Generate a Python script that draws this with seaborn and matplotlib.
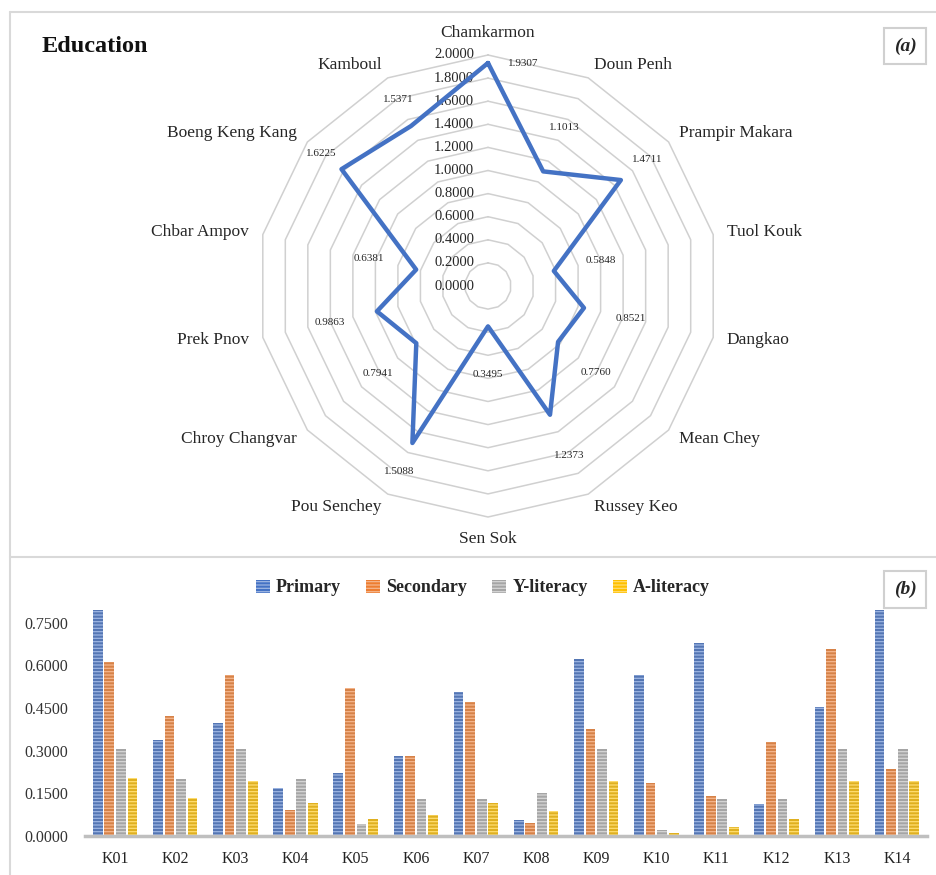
import numpy as np
import pandas as pd
import matplotlib.pyplot as plt
import seaborn as sns
from matplotlib.lines import Line2D
from matplotlib.patches import Patch

# --- radar data (a) ---
districts = ['Chamkarmon', 'Doun Penh', 'Prampir Makara', 'Tuol Kouk', 'Dangkao',
             'Mean Chey', 'Russey Keo', 'Sen Sok', 'Pou Senchey', 'Chroy Changvar',
             'Prek Pnov', 'Chbar Ampov', 'Boeng Keng Kang', 'Kamboul']
education = [1.9307, 1.1013, 1.4711, 0.5848, 0.8521, 0.7760, 1.2373,
             0.3495, 1.5088, 0.7941, 0.9863, 0.6381, 1.6225, 1.5371]
ring_levels = [0.0, 0.2, 0.4, 0.6, 0.8, 1.0, 1.2, 1.4, 1.6, 1.8, 2.0]

# --- bar data (b) ---
codes = ['K01', 'K02', 'K03', 'K04', 'K05', 'K06', 'K07',
         'K08', 'K09', 'K10', 'K11', 'K12', 'K13', 'K14']
primary = [0.794, 0.338, 0.397, 0.169, 0.223, 0.282, 0.507,
           0.055, 0.621, 0.567, 0.680, 0.114, 0.452, 0.794]
secondary = [0.611, 0.422, 0.567, 0.093, 0.520, 0.282, 0.472,
             0.047, 0.375, 0.185, 0.139, 0.329, 0.659, 0.235]
y_literacy = [0.306, 0.199, 0.306, 0.199, 0.042, 0.131, 0.131,
              0.151, 0.306, 0.021, 0.131, 0.131, 0.306, 0.306]
a_literacy = [0.205, 0.135, 0.193, 0.116, 0.059, 0.073, 0.116,
              0.088, 0.193, 0.012, 0.031, 0.059, 0.193, 0.193]
series_names = ['Primary', 'Secondary', 'Y-literacy', 'A-literacy']
bar_ticks = [0.0, 0.15, 0.30, 0.45, 0.60, 0.75]

colors = ['#4472C4', '#ED7D31', '#A5A5A5', '#FFC000']
stripes = ['#9DB5E2', '#F5B68C', '#D6D6D6', '#FFDD70']

sns.set_theme(style='white')
plt.rcParams['font.family'] = ['Liberation Serif', 'DejaVu Serif']
plt.rcParams['hatch.linewidth'] = 0.9

W, H = 937, 875
fig = plt.figure(figsize=(W / 100, H / 100), dpi=100)

# ---------------- panel (a): radar ----------------
cx, cy, scale = 488, 286, 115.5
ax1 = fig.add_axes([10 / W, 1 - 557 / H, (W - 10) / W, (557 - 12) / H])
ax1.set_xlim((10 - cx) / scale, (W - cx) / scale)
ax1.set_ylim(-(557 - cy) / scale, (cy - 12) / scale)
ax1.axis('off')

n = len(districts)
theta = 2 * np.pi * np.arange(n) / n
sx, sy = np.sin(theta), np.cos(theta)

for lev in ring_levels[1:]:
    ax1.plot(np.append(lev * sx, lev * sx[0]), np.append(lev * sy, lev * sy[0]),
             color='#D0D0D0', lw=1.1, zorder=1)

for lev in ring_levels:
    ax1.text(-0.12, lev, f'{lev:.4f}', ha='right', va='center',
             fontsize=10.5, color='#262626', zorder=2)

vals = np.array(education)
radar = pd.DataFrame({'x': np.append(vals * sx, vals[0] * sx[0]),
                      'y': np.append(vals * sy, vals[0] * sy[0])})
sns.lineplot(data=radar, x='x', y='y', sort=False, estimator=None,
             color='#4472C4', lw=3.2, ax=ax1, zorder=3)
ax1.set_xlabel('')
ax1.set_ylabel('')

for i, name in enumerate(districts):
    s, c = sx[i], sy[i]
    ha = 'left' if s > 0.05 else ('right' if s < -0.05 else 'center')
    va = 'center'
    if c > 0.99:
        va = 'bottom'
    elif c < -0.99:
        va = 'top'
    ax1.text(2.12 * s, 2.12 * c, name, ha=ha, va=va, fontsize=12.5, color='#262626')

    v = education[i]
    if c > 0.99:
        ax1.text(v * s + 0.17, v * c, f'{v:.4f}', ha='left', va='center',
                 fontsize=8, color='#262626')
    else:
        rl = min(v + 0.42, 0.55 * v + 0.95)
        ax1.text(rl * s, rl * c, f'{v:.4f}', ha='center', va='center',
                 fontsize=8, color='#262626')

fig.text(42 / W, 1 - 47 / H, 'Education', ha='left', va='center',
         fontsize=17.5, fontweight='bold', color='#111111')

box = dict(boxstyle='square,pad=0.5', fc='white', ec='#D0D0D0', lw=1.5)
fig.text(905 / W, 1 - 46 / H, '(a)', ha='center', va='center', fontsize=14,
         style='italic', fontweight='bold', bbox=box)

# ---------------- panel (b): grouped bars ----------------
df = pd.DataFrame({'code': codes * 4,
                   'value': primary + secondary + y_literacy + a_literacy,
                   'series': np.repeat(series_names, len(codes))})

ax2 = fig.add_axes([85 / W, 1 - 836 / H, 842 / W, 227.5 / H])
sns.barplot(data=df, x='code', y='value', hue='series', hue_order=series_names,
            palette=colors, width=0.77, gap=0.17, legend=False, ax=ax2, zorder=2)

for cont, sc in zip(ax2.containers, stripes):
    for bar in cont:
        bar.set_hatch('-----')
        bar.set_edgecolor(sc)
        bar.set_linewidth(0)

ax2.set_ylim(0, 0.8)
ax2.set_xlim(-0.5, len(codes) - 0.5)
ax2.set_yticks(bar_ticks)
ax2.set_yticklabels([f'{t:.4f}' for t in bar_ticks])
ax2.set_xlabel('')
ax2.set_ylabel('')
ax2.tick_params(axis='y', length=0, pad=12, labelsize=11.5, labelcolor='#333333')
ax2.tick_params(axis='x', length=0, pad=11, labelsize=11.5, labelcolor='#222222')
for side in ['top', 'right', 'left']:
    ax2.spines[side].set_visible(False)
ax2.spines['bottom'].set_color('#BFBFBF')
ax2.spines['bottom'].set_linewidth(2.5)
ax2.set_facecolor('none')

handles = [Patch(facecolor=c, edgecolor=sc, hatch='-----', lw=0)
           for c, sc in zip(colors, stripes)]
fig.legend(handles, series_names, loc='center', bbox_to_anchor=(483 / W, 1 - 588 / H),
           ncol=4, frameon=False, prop={'weight': 'bold', 'size': 13},
           handlelength=0.75, handleheight=0.75, handletextpad=0.35, columnspacing=1.4)

fig.text(905 / W, 1 - 589.5 / H, '(b)', ha='center', va='center', fontsize=14,
         style='italic', fontweight='bold', bbox=box)

# panel borders
border = '#D9D9D9'
fig.add_artist(Line2D([10 / W, 1], [1 - 12 / H, 1 - 12 / H], color=border, lw=1.5))
fig.add_artist(Line2D([10 / W, 1], [1 - 557 / H, 1 - 557 / H], color=border, lw=1.5))
fig.add_artist(Line2D([10 / W, 10 / W], [1 - 12 / H, 0], color=border, lw=1.5))

fig.savefig('out.png', dpi=100)
